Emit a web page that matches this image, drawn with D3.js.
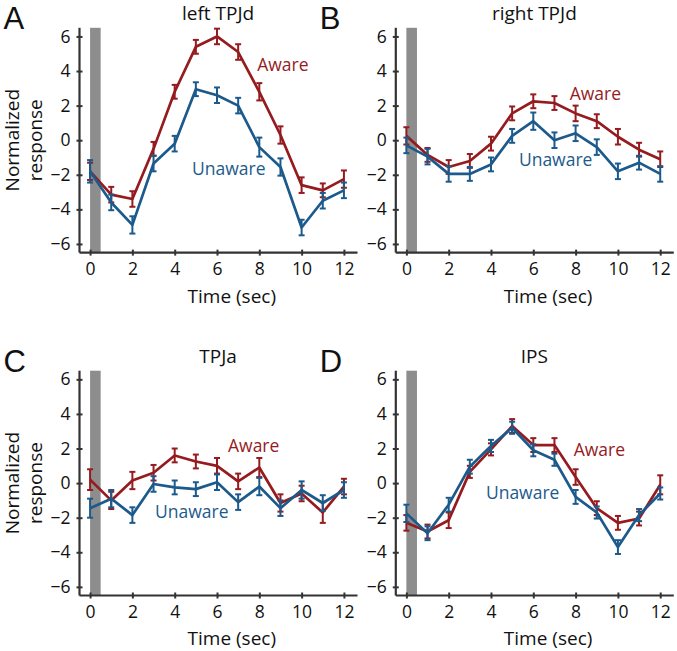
<!DOCTYPE html>
<html>
<head>
<meta charset="utf-8">
<script src="https://cdn.jsdelivr.net/npm/d3@7"></script>
<style>
  body { margin: 0; background: #fff; }
  svg text { font-family: 'Open Sans', sans-serif; fill: #111; }
</style>
</head>
<body>
<svg id="chart" width="677" height="651"></svg>
<script>
const times = [0, 1, 2, 3, 4, 5, 6, 7, 8, 9, 10, 11, 12]
const yTicks = [-6, -4, -2, 0, 2, 4, 6]
const xTicks = [0, 2, 4, 6, 8, 10, 12]

const leftTPJdAware = [-1.8, -3.15, -3.4, -0.5, 2.8, 5.4, 6.0, 5.1, 2.8, 0.3, -2.6, -2.9, -2.25]
const leftTPJdAwareErr = [0.5, 0.45, 0.45, 0.4, 0.4, 0.4, 0.45, 0.45, 0.5, 0.5, 0.45, 0.4, 0.5]
const leftTPJdUnaware = [-1.8, -3.6, -4.9, -1.35, -0.2, 2.95, 2.6, 2.0, -0.4, -1.55, -5.05, -3.5, -2.9]
const leftTPJdUnawareErr = [0.65, 0.45, 0.5, 0.45, 0.45, 0.4, 0.45, 0.45, 0.55, 0.5, 0.45, 0.45, 0.45]

const rightTPJdAware = [0.25, -0.85, -1.55, -1.2, -0.2, 1.55, 2.25, 2.15, 1.55, 1.1, 0.2, -0.55, -1.1]
const rightTPJdAwareErr = [0.5, 0.4, 0.4, 0.4, 0.4, 0.4, 0.4, 0.4, 0.45, 0.4, 0.45, 0.4, 0.45]
const rightTPJdUnaware = [-0.3, -0.95, -1.95, -1.95, -1.4, 0.25, 1.1, 0.0, 0.4, -0.4, -1.8, -1.3, -1.95]
const rightTPJdUnawareErr = [0.45, 0.45, 0.45, 0.4, 0.4, 0.4, 0.5, 0.45, 0.45, 0.45, 0.45, 0.4, 0.45]

const tpjaAware = [0.2, -1.0, 0.15, 0.6, 1.6, 1.25, 1.0, 0.1, 0.9, -1.15, -0.6, -1.7, -0.2]
const tpjaAwareErr = [0.6, 0.5, 0.5, 0.45, 0.4, 0.4, 0.45, 0.45, 0.55, 0.5, 0.45, 0.6, 0.45]
const tpjaUnaware = [-1.45, -0.9, -1.85, -0.05, -0.25, -0.35, 0.05, -1.1, -0.2, -1.45, -0.4, -1.15, -0.4]
const tpjaUnawareErr = [0.55, 0.5, 0.45, 0.45, 0.4, 0.4, 0.45, 0.45, 0.5, 0.45, 0.5, 0.45, 0.45]

const ipsAware = [-2.3, -2.8, -2.15, 0.65, 1.95, 3.3, 2.2, 2.2, 0.35, -1.45, -2.3, -2.05, -0.1]
const ipsAwareErr = [0.45, 0.4, 0.45, 0.35, 0.35, 0.4, 0.4, 0.4, 0.45, 0.4, 0.4, 0.4, 0.55]
const ipsUnaware = [-1.75, -2.9, -1.25, 0.95, 2.15, 3.2, 1.9, 1.35, -0.8, -1.7, -3.7, -1.85, -0.6]
const ipsUnawareErr = [0.5, 0.4, 0.4, 0.4, 0.35, 0.35, 0.35, 0.35, 0.4, 0.35, 0.4, 0.35, 0.35]

const RED = '#951b1f'
const BLUE = '#1c5a8c'

const panels = [
  { letter: 'A', title: 'left TPJd', left: 79.5, top: 27.8, yLabel: true,
    aware: leftTPJdAware, awareErr: leftTPJdAwareErr,
    unaware: leftTPJdUnaware, unawareErr: leftTPJdUnawareErr,
    awarePos: [7.9, 4.0], unawarePos: [4.82, -2.0] },
  { letter: 'B', title: 'right TPJd', left: 395.8, top: 27.8, yLabel: false,
    aware: rightTPJdAware, awareErr: rightTPJdAwareErr,
    unaware: rightTPJdUnaware, unawareErr: rightTPJdUnawareErr,
    awarePos: [7.72, 2.34], unawarePos: [5.32, -1.49] },
  { letter: 'C', title: 'TPJa', left: 79.5, top: 370.7, yLabel: true,
    aware: tpjaAware, awareErr: tpjaAwareErr,
    unaware: tpjaUnaware, unawareErr: tpjaUnawareErr,
    awarePos: [6.52, 1.79], unawarePos: [3.07, -2.02] },
  { letter: 'D', title: 'IPS', left: 395.8, top: 370.7, yLabel: false,
    aware: ipsAware, awareErr: ipsAwareErr,
    unaware: ipsUnaware, unawareErr: ipsUnawareErr,
    awarePos: [7.91, 1.56], unawarePos: [3.76, -0.92] }
]

const W = 275
const H = 224.8

const svg = d3.select('#chart')

panels.forEach(p => {
  const x = d3.scaleLinear().domain([-0.5, 12.5]).range([0, W])
  const y = d3.scaleLinear().domain([-6.5, 6.5]).range([H, 0])

  const g = svg.append('g').attr('transform', `translate(${p.left},${p.top})`)

  // stimulus bar
  g.append('rect')
    .attr('x', x(0))
    .attr('y', 0)
    .attr('width', x(0.5) - x(0))
    .attr('height', H)
    .attr('fill', '#8d8d8d')

  // axes
  const yAxis = g.append('g').call(d3.axisLeft(y).tickValues(yTicks).tickSize(3).tickPadding(6))
  const xAxis = g.append('g').attr('transform', `translate(0,${H})`)
    .call(d3.axisBottom(x).tickValues(xTicks).tickSize(3).tickPadding(7))

  ;[yAxis, xAxis].forEach(ax => {
    ax.select('.domain').remove()
    ax.selectAll('text').style('font-size', '17.5px').style('font-family', 'Open Sans').attr('fill', '#111')
    ax.selectAll('.tick line').attr('stroke', '#333').attr('stroke-width', 2)
  })
  yAxis.selectAll('.tick line').attr('x1', 3)
  xAxis.selectAll('.tick line').attr('y1', -3)

  g.append('line').attr('x1', 0).attr('x2', 0).attr('y1', 0).attr('y2', H)
    .attr('stroke', '#333').attr('stroke-width', 2.2)
  g.append('line').attr('x1', 0).attr('x2', W + 3).attr('y1', H).attr('y2', H)
    .attr('stroke', '#333').attr('stroke-width', 2.2)

  // series
  const series = [
    { vals: p.aware, err: p.awareErr, color: RED },
    { vals: p.unaware, err: p.unawareErr, color: BLUE }
  ]
  const line = d3.line().x((d, i) => x(times[i])).y(d => y(d))

  series.forEach(s => {
    const sg = g.append('g')
    sg.append('path')
      .attr('d', line(s.vals))
      .attr('fill', 'none')
      .attr('stroke', s.color)
      .attr('stroke-width', 2.7)
      .attr('stroke-linejoin', 'round')

    const eb = sg.selectAll('.eb').data(s.vals).enter().append('g')
    eb.append('line')
      .attr('x1', (d, i) => x(times[i])).attr('x2', (d, i) => x(times[i]))
      .attr('y1', (d, i) => y(d - s.err[i])).attr('y2', (d, i) => y(d + s.err[i]))
      .attr('stroke', s.color).attr('stroke-width', 2)
    ;[1, -1].forEach(sign => {
      eb.append('line')
        .attr('x1', (d, i) => x(times[i]) - 3).attr('x2', (d, i) => x(times[i]) + 3)
        .attr('y1', (d, i) => y(d + sign * s.err[i])).attr('y2', (d, i) => y(d + sign * s.err[i]))
        .attr('stroke', s.color).attr('stroke-width', 2)
    })
  })

  // series labels
  g.append('text').text('Aware')
    .attr('x', x(p.awarePos[0])).attr('y', y(p.awarePos[1]))
    .style('font-size', '17.5px').style('fill', RED)
  g.append('text').text('Unaware')
    .attr('x', x(p.unawarePos[0])).attr('y', y(p.unawarePos[1]))
    .style('font-size', '17.5px').style('fill', BLUE)

  // titles
  g.append('text').text(p.title)
    .attr('x', x(6.05)).attr('y', -8)
    .attr('text-anchor', 'middle')
    .style('font-size', '19px')

  svg.append('text').text(p.letter)
    .attr('x', p.left - 76).attr('y', p.top + 1.5)
    .style('font-size', '31px')
    .style('font-family', 'Liberation Sans, Arial, sans-serif')

  g.append('text').text('Time (sec)')
    .attr('x', x(6.7)).attr('y', H + 50)
    .attr('text-anchor', 'middle')
    .style('font-size', '19px')

  if (p.yLabel) {
    const yl = g.append('text')
      .attr('transform', `translate(-60.5,${y(0)}) rotate(-90)`)
      .attr('text-anchor', 'middle')
      .style('font-size', '19px')
    yl.append('tspan').attr('x', 0).attr('dy', 0).text('Normalized')
    yl.append('tspan').attr('x', 0).attr('dy', 23).text('response')
  }
})
</script>
</body>
</html>
